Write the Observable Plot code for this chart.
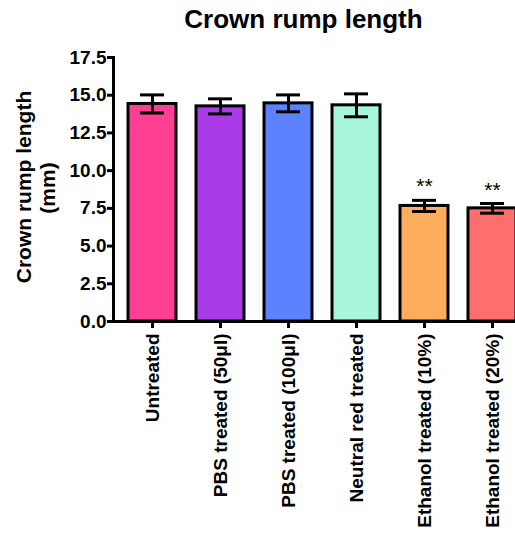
<!DOCTYPE html>
<html><head><meta charset="utf-8">
<script src="https://cdn.jsdelivr.net/npm/d3@7"></script>
<script src="https://cdn.jsdelivr.net/npm/@observablehq/plot@0.6"></script>
<style>html,body{margin:0;padding:0;background:#fff;overflow:hidden}</style>
</head><body><div id="chart"></div>
<script>
const categories = ["Untreated", "PBS treated (50\u03bcl)", "PBS treated (100\u03bcl)", "Neutral red treated", "Ethanol treated (10%)", "Ethanol treated (20%)"];
const means = [14.42, 14.26, 14.46, 14.33, 7.66, 7.50];
const errors = [0.60, 0.50, 0.56, 0.76, 0.37, 0.32];
const significance = ["", "", "", "", "**", "**"];
const colors = ["#ff3f93", "#aa3be8", "#5c82ff", "#a6f5dc", "#ffad5c", "#ff6e6e"];
const yTicks = [0, 2.5, 5, 7.5, 10, 12.5, 15, 17.5];
const title = "Crown rump length";
const yLabel = ["Crown rump length", "(mm)"];

const data = categories.map((c, i) => ({category: c, mean: means[i], err: errors[i], sig: significance[i], color: colors[i]}));

const chart = Plot.plot({
  width: 515, height: 542,
  marginTop: 57, marginBottom: 221, marginLeft: 113, marginRight: 0,
  style: {fontFamily: "'Liberation Sans', Arial, sans-serif", fontWeight: "bold", background: "#fff", overflow: "hidden", color: "#000"},
  x: {domain: categories, range: [118, 526], paddingInner: 0.3, paddingOuter: 0.15, align: 0.5},
  y: {domain: [0, 17.5]},
  color: {type: "identity"},
  marks: [
    Plot.barY(data, {x: "category", y: "mean", fill: "color", stroke: "black", strokeWidth: 3}),
    Plot.ruleX(data, {x: "category", y1: d => d.mean - d.err, y2: d => d.mean + d.err, stroke: "black", strokeWidth: 3}),
    Plot.tickY(data, {x: "category", y: d => d.mean + d.err, stroke: "black", strokeWidth: 3, insetLeft: 12, insetRight: 12}),
    Plot.tickY(data, {x: "category", y: d => d.mean - d.err, stroke: "black", strokeWidth: 3, insetLeft: 12, insetRight: 12}),
    Plot.text(data.filter(d => d.sig), {x: "category", y: d => d.mean + d.err, text: "sig", fontSize: 21, fontWeight: "normal", lineAnchor: "bottom", dy: -7, fill: "black"}),
    Plot.ruleY([0], {stroke: "black", strokeWidth: 3}),
    Plot.frame({anchor: "left", stroke: "black", strokeWidth: 3}),
    Plot.axisY({ticks: yTicks, tickFormat: d => d.toFixed(1), tickSize: 6, tickPadding: 1, strokeWidth: 3, fontSize: 19, label: null}),
    Plot.axisX({tickSize: 7, tickPadding: 5, tickRotate: -90, strokeWidth: 3, fontSize: 19, label: null}),
    Plot.text([title], {frameAnchor: "top-left", dx: 190, dy: -30, fontSize: 26, lineAnchor: "bottom", textAnchor: "middle"}),
    Plot.text([yLabel[0]], {frameAnchor: "left", dx: -83, dy: -2.5, rotate: -90, fontSize: 21, lineAnchor: "bottom", textAnchor: "middle"}),
    Plot.text([yLabel[1]], {frameAnchor: "left", dx: -58.5, dy: -1.5, rotate: -90, fontSize: 21, lineAnchor: "bottom", textAnchor: "middle"})
  ]
});
document.getElementById("chart").appendChild(chart);
</script>
</body></html>
